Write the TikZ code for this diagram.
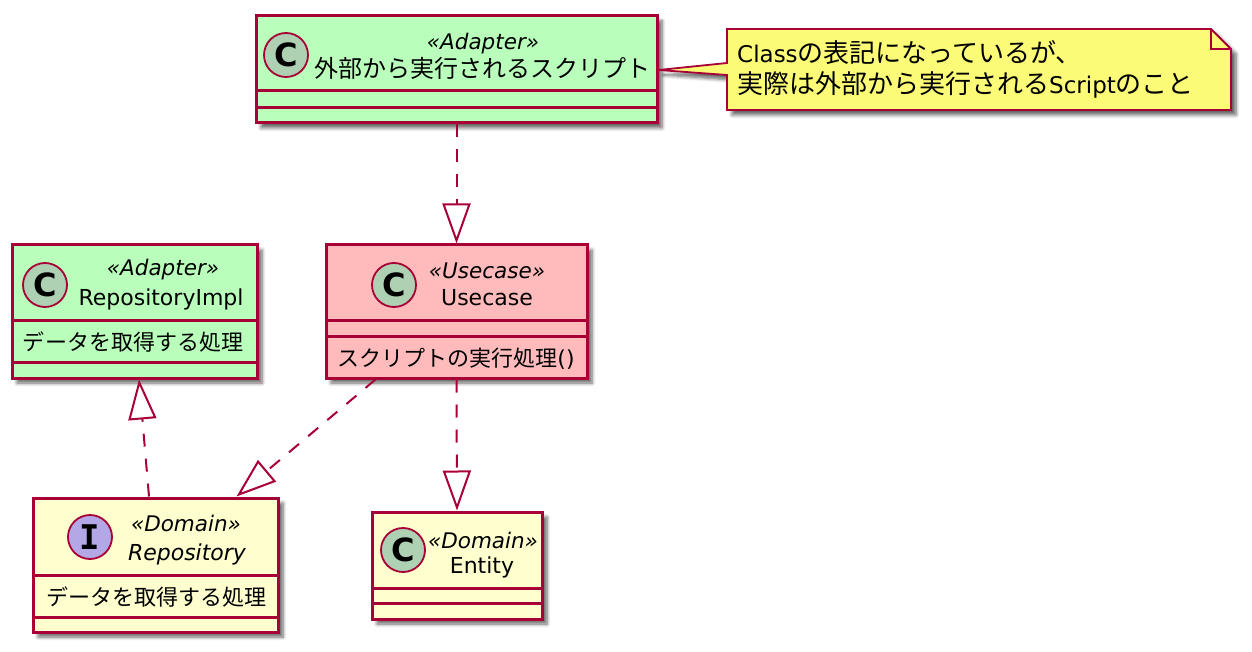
\documentclass[tikz,border=0pt]{standalone}
\usepackage{fontspec}
\setmainfont{DejaVu Sans}
\newfontfamily\jp{Noto Sans CJK JP}
\newfontfamily\monob{DejaVu Sans Mono}
\usetikzlibrary{arrows.meta,shadows.blur}
\definecolor{bd}{HTML}{A80036}
\definecolor{gfill}{HTML}{B9FFBB}
\definecolor{pfill}{HTML}{FFBBBB}
\definecolor{yfill}{HTML}{FEFECE}
\definecolor{nfill}{HTML}{FBFB77}
\definecolor{cC}{HTML}{ADD1B2}
\definecolor{cI}{HTML}{B4A7E5}
\tikzset{
  shad/.style={blur shadow={shadow xshift=5pt, shadow yshift=-5pt, shadow blur radius=3.5pt, shadow blur steps=6, shadow opacity=60}},
  cbox/.style={rectangle, draw=bd, line width=3pt, inner sep=0pt, shad},
  sepline/.style={draw=bd, line width=3pt},
  circ/.style={circle, draw=bd, line width=1.8pt, minimum size=44pt, inner sep=0pt},
  cletter/.style={font=\bfseries\fontsize{32}{32}\selectfont},
  iletter/.style={font=\monob\bfseries\fontsize{34}{34}\selectfont},
  txt/.style={inner sep=0pt, text height=16pt, text depth=0pt},
  nm/.style={txt, font=\fontsize{22}{26}\selectfont},
  nmjp/.style={txt, font=\jp\fontsize{24}{28}\selectfont},
  st/.style={txt, font=\itshape\fontsize{21.5}{25}\selectfont},
  attr/.style={txt, font=\jp\fontsize{22}{26}\selectfont},
  notetxt/.style={inner sep=0pt, font=\fontsize{23}{27}\selectfont},
  conn/.style={draw=bd, line width=2pt, dash pattern=on 13pt off 12pt,
    -{Triangle[open, length=40pt, width=28pt]}},
}
\newcommand{\jpn}[1]{{\jp\fontsize{26}{30}\selectfont #1}}
\begin{document}
\begin{tikzpicture}[x=1pt,y=-1pt]
\useasboundingbox (0,0) rectangle (1252,652);

% note
\coordinate (nw) at (727,29);
\coordinate (nf) at (1211,29);
\coordinate (nfd) at (1231,49);
\coordinate (nse) at (1231,110);
\coordinate (nsw) at (727,110);
\coordinate (nwl) at (727,75);
\coordinate (nwu) at (727,63);

% boxes
\node[cbox, fill=gfill, minimum width=401pt, minimum height=107pt] (b1) at (456.5,69.5) {};
\node[cbox, fill=gfill, minimum width=245pt, minimum height=133pt] (impl) at (134.5,311.5) {};
\node[cbox, fill=pfill, minimum width=261pt, minimum height=133pt] (uc) at (456.5,311.5) {};
\node[cbox, fill=yfill, minimum width=245pt, minimum height=134pt] (repo) at (155.5,565) {};
\node[cbox, fill=yfill, minimum width=170pt, minimum height=107pt] (ent) at (457,565.5) {};

\path[fill=nfill, draw=bd, line width=1.8pt, shad]
  (nw) -- (nf) -- (nfd) -- (nse) -- (nsw) -- (nwl) -- (b1.east |- 0,70) -- (nwu) -- cycle;
\draw[draw=bd, line width=1.8pt] (nf) -- (1211,49) -- (nfd);

% separators
\draw[sepline] (b1.west |- 0,91) -- (b1.east |- 0,91);
\draw[sepline] (b1.west |- 0,108) -- (b1.east |- 0,108);
\draw[sepline] (impl.west |- 0,320) -- (impl.east |- 0,320);
\draw[sepline] (impl.west |- 0,362) -- (impl.east |- 0,362);
\draw[sepline] (uc.west |- 0,320) -- (uc.east |- 0,320);
\draw[sepline] (uc.west |- 0,336) -- (uc.east |- 0,336);
\draw[sepline] (repo.west |- 0,575) -- (repo.east |- 0,575);
\draw[sepline] (repo.west |- 0,617) -- (repo.east |- 0,617);
\draw[sepline] (ent.west |- 0,588) -- (ent.east |- 0,588);
\draw[sepline] (ent.west |- 0,603) -- (ent.east |- 0,603);

% circles
\node[circ, fill=cC, cletter] (b1c) at (286,55) {C};
\node[circ, fill=cC, cletter] (implc) at (45,285) {C};
\node[circ, fill=cC, cletter] (ucc) at (394,285) {C};
\node[circ, fill=cI, iletter] (repoc) at (90,537) {I};
\node[circ, fill=cC, cletter] (entc) at (403,550) {C};

% texts
\node[st] (b1s) at (483,42) {«Adapter»};
\node[nmjp] (b1n) at (482,70) {外部から実行されるスクリプト};
\node[st] (impls) at (163,268) {«Adapter»};
\node[nm] (impln) at (161,297) {RepositoryImpl};
\node[attr] (impla) at (133,342) {データを取得する処理};
\node[st] (ucs) at (487,270) {«Usecase»};
\node[nm] (ucn) at (487,297) {Usecase};
\node[txt, font=\fontsize{22}{26}\selectfont] (ucm) at (456,358) {{\jp スクリプトの実行処理}()};
\node[st] (repos) at (186,523) {«Domain»};
\node[nm, font=\itshape\fontsize{22}{26}\selectfont] (repon) at (187,552) {Repository};
\node[attr] (repoa) at (156,597) {データを取得する処理};
\node[st] (ents) at (483,540) {«Domain»};
\node[nm] (entn) at (482,565) {Entity};

\node[notetxt, anchor=base west] (n1) at (737,63) {Class\jpn{の表記になっているが、}};
\node[notetxt, anchor=base west] (n2) at (737,94) {\jpn{実際は外部から実行される}Script\jpn{のこと}};

% connectors
\draw[conn] (b1.south) -- (uc.north);
\draw[conn] (uc.south) -- (ent.north);
\draw[conn] ([xshift=51pt]uc.south west) -- ([xshift=-43pt]repo.north east);
\draw[conn] ([xshift=-6.5pt]repo.north) -- ([xshift=4.5pt]impl.south);
\end{tikzpicture}
\end{document}
